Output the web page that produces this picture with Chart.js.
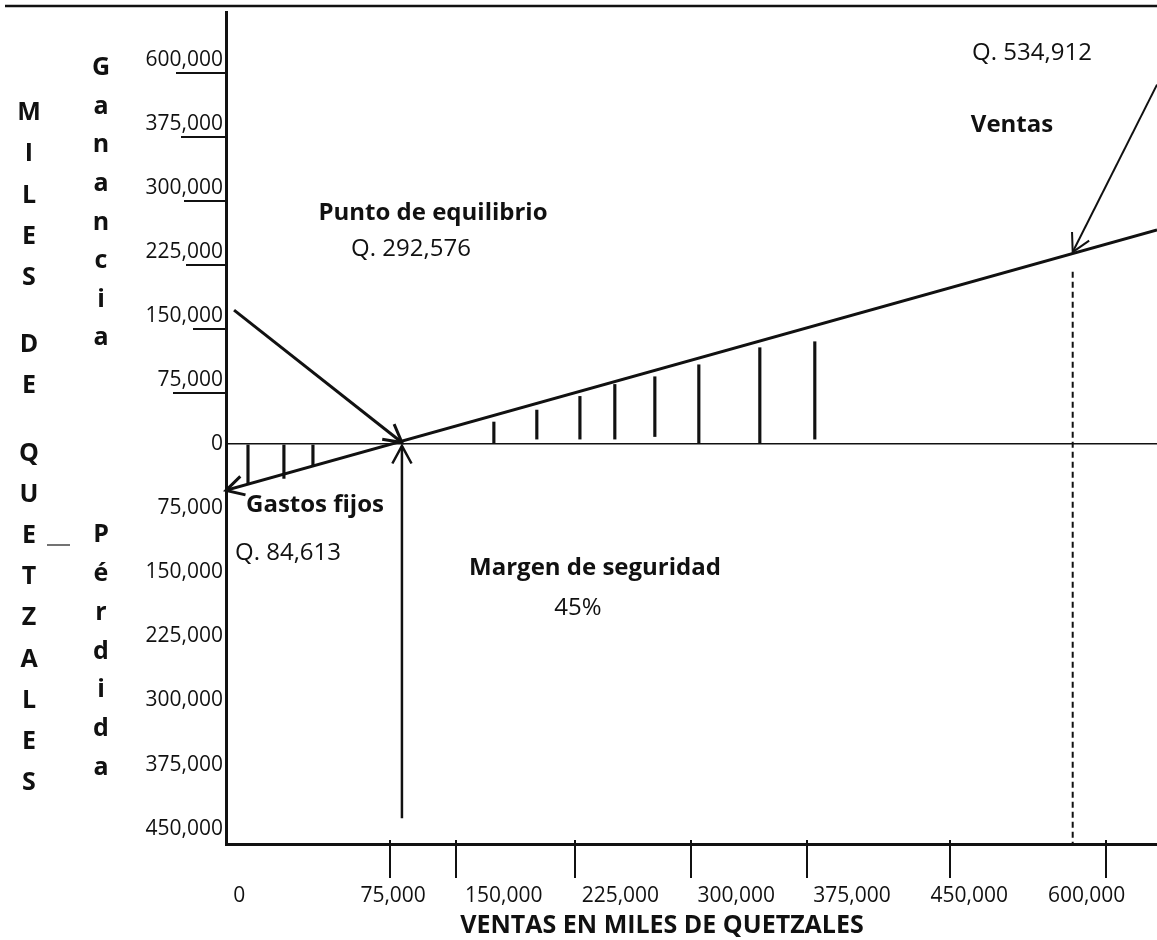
<!DOCTYPE html>
<html>
<head>
<meta charset="utf-8">
<script src="https://cdn.jsdelivr.net/npm/chart.js@4.4.1/dist/chart.umd.min.js"></script>
<style>
  body { margin: 0; background: #ffffff; }
  #wrap { width: 1157px; height: 940px; }
</style>
</head>
<body>
<div id="wrap"><canvas id="peChart" width="1157" height="940"></canvas></div>
<script>
// valores (unidades del dibujo, no de las etiquetas)
const yTickValues = [-450, -375, -300, -225, -150, -75, 0, 75, 150, 225, 300, 375, 450];
const yTickLabels = ['450,000', '375,000', '300,000', '225,000', '150,000', '75,000', '0',
    '75,000', '150,000', '225,000', '300,000', '375,000', '600,000'];
const xTickValues = [9, 114, 189.5, 269, 348, 427, 507, 587];
const xTickLabels = ['0', '75,000', '150,000', '225,000', '300,000', '375,000', '450,000', '600,000'];
const xTickMarks = [112, 157, 238, 317, 396, 494, 600];

const salesLine = [{ x: 0, y: -54 }, { x: 635, y: 251 }];
const equilibriumArrow = [{ x: 5.5, y: 157 }, { x: 120, y: 2 }];
const marginArrow = [{ x: 120, y: -438 }, { x: 120, y: -2 }];
const ventasArrow = [{ x: 635, y: 421 }, { x: 577.5, y: 225 }];
const ventasDrop = [{ x: 577.5, y: 202 }, { x: 577.5, y: -468 }];

const hatchX = [15, 39.5, 59.3, 182.7, 212, 241.4, 265.2, 292.5, 322.5, 364.1, 401.6];
const hatchLow = [-47, -40, -24, 0, 6, 6, 6, 9, 0, 0, 6];
const hatchHigh = [0, 0, 0, 26, 40, 56, 70, 79, 93, 113, 120];

const INK = '#111111';
const FONT = 'Open Sans';

// largo de las rayitas bajo las etiquetas positivas del eje y
const underlineLen = { 75: 53, 150: 33, 225: 40, 300: 42, 375: 45, 450: 50 };

const notes = [
    { text: 'Punto de equilibrio', x: 433, y: 213, bold: true },
    { text: 'Q. 292,576', x: 411, y: 249 },
    { text: 'Gastos fijos', x: 315, y: 505, bold: true },
    { text: 'Q. 84,613', x: 288, y: 553 },
    { text: 'Margen de seguridad', x: 595, y: 568, bold: true },
    { text: '45%', x: 578, y: 608 },
    { text: 'Q. 534,912', x: 1032, y: 53 },
    { text: 'Ventas', x: 1012, y: 125, bold: true },
    { text: 'VENTAS EN MILES DE QUETZALES', x: 662, y: 926, bold: true, size: 25 }
];

const stackText = (ctx, word, x, y0, step, gap) => {
    let y = y0;
    for (const ch of word) {
        if (ch === ' ') { y += gap; continue; }
        ctx.fillText(ch, x, y);
        y += step;
    }
};

const arrowHead = (ctx, from, to, len, ang) => {
    const a = Math.atan2(to.y - from.y, to.x - from.x);
    ctx.beginPath();
    ctx.moveTo(to.x - len * Math.cos(a - ang), to.y - len * Math.sin(a - ang));
    ctx.lineTo(to.x, to.y);
    ctx.lineTo(to.x - len * Math.cos(a + ang), to.y - len * Math.sin(a + ang));
    ctx.stroke();
};

const decorPlugin = {
    id: 'decor',
    afterDraw(chart) {
        const { ctx, chartArea, scales } = chart;
        const xs = scales.x;
        const ys = scales.y;
        ctx.save();
        ctx.strokeStyle = INK;
        ctx.fillStyle = INK;
        ctx.lineCap = 'butt';

        // borde superior
        ctx.lineWidth = 2.5;
        ctx.beginPath();
        ctx.moveTo(5, 6);
        ctx.lineTo(chart.width, 6);
        ctx.stroke();

        // rayitas bajo etiquetas del eje y
        ctx.lineWidth = 2;
        Object.keys(underlineLen).forEach((v) => {
            const py = Math.round(ys.getPixelForValue(Number(v))) + 13;
            ctx.beginPath();
            ctx.moveTo(chartArea.left - underlineLen[v], py);
            ctx.lineTo(chartArea.left, py);
            ctx.stroke();
        });

        // marcas del eje x
        xTickMarks.forEach((v) => {
            const px = Math.round(xs.getPixelForValue(v));
            ctx.beginPath();
            ctx.moveTo(px, chartArea.bottom - 4);
            ctx.lineTo(px, chartArea.bottom + 34);
            ctx.stroke();
        });

        // puntas de flecha
        chart.data.datasets.forEach((ds, i) => {
            if (!ds.arrow) return;
            const pts = chart.getDatasetMeta(i).data;
            const a = pts[0], b = pts[pts.length - 1];
            ctx.lineWidth = ds.borderWidth;
            if (ds.arrow === 'end') arrowHead(ctx, a, b, 20, 0.5);
            else arrowHead(ctx, b, a, 20, 0.5);
        });

        // rayita junto a "E"
        ctx.lineWidth = 1.5;
        ctx.strokeStyle = '#444';
        ctx.beginPath();
        ctx.moveTo(47, 545);
        ctx.lineTo(70, 545);
        ctx.stroke();

        // textos
        ctx.textAlign = 'center';
        ctx.textBaseline = 'middle';
        notes.forEach((n) => {
            ctx.font = `${n.bold ? 'bold ' : ''}${n.size || 24}px "${FONT}"`;
            ctx.fillText(n.text, n.x, n.y);
        });

        ctx.font = `bold 25px "${FONT}"`;
        stackText(ctx, 'MILES DE QUETZALES', 29, 113, 41.2, 26);
        stackText(ctx, 'Ganancia', 101, 68, 38.6, 0);
        stackText(ctx, 'Pérdida', 101, 535, 38.8, 0);
        ctx.restore();
    }
};

const lineSet = (data, width, extra = {}) => ({
    type: 'line',
    data,
    borderColor: INK,
    borderWidth: width,
    pointRadius: 0,
    fill: false,
    tension: 0,
    ...extra
});

new Chart(document.getElementById('peChart'), {
    type: 'line',
    data: {
        datasets: [
            lineSet(salesLine, 3, { arrow: 'start' }),
            lineSet(equilibriumArrow, 3, { arrow: 'end' }),
            lineSet(marginArrow, 2.5, { arrow: 'end' }),
            lineSet(ventasArrow, 2, { arrow: 'end' }),
            lineSet(ventasDrop, 2, { borderDash: [6, 4] }),
            {
                type: 'bar',
                data: hatchX.map((x, i) => ({ x, y: [hatchLow[i], hatchHigh[i]] })),
                backgroundColor: INK,
                borderWidth: 0,
                barThickness: 2.5,
                grouped: false
            }
        ]
    },
    options: {
        responsive: false,
        animation: false,
        events: [],
        layout: { autoPadding: false, padding: { top: 12, left: 0, right: 0, bottom: 0 } },
        plugins: {
            legend: { display: false },
            tooltip: { enabled: false }
        },
        scales: {
            x: {
                type: 'linear',
                min: 0,
                max: 635,
                offset: false,
                afterFit: (s) => {
                    s.height = 96;
                    s.paddingLeft = 0;
                    s.paddingRight = 0;
                },
                afterBuildTicks: (s) => { s.ticks = xTickValues.map((v) => ({ value: v })); },
                grid: { display: false, drawTicks: false },
                border: { display: true, color: INK, width: 3 },
                ticks: {
                    autoSkip: false,
                    maxRotation: 0,
                    padding: 39,
                    color: INK,
                    font: { family: FONT, size: 21 },
                    callback: (v) => xTickLabels[xTickValues.indexOf(v)]
                }
            },
            y: {
                type: 'linear',
                min: -468,
                max: 506,
                afterFit: (s) => {
                    s.width = 226;
                    s.paddingTop = 0;
                    s.paddingBottom = 0;
                },
                afterBuildTicks: (s) => { s.ticks = yTickValues.map((v) => ({ value: v })); },
                grid: {
                    drawTicks: false,
                    lineWidth: 1.5,
                    color: (c) => (c.tick && c.tick.value === 0 ? INK : 'rgba(0,0,0,0)')
                },
                border: { display: true, color: INK, width: 3 },
                ticks: {
                    padding: 3,
                    color: INK,
                    font: { family: FONT, size: 21 },
                    callback: (v) => yTickLabels[yTickValues.indexOf(v)]
                }
            }
        }
    },
    plugins: [decorPlugin]
});
</script>
</body>
</html>
